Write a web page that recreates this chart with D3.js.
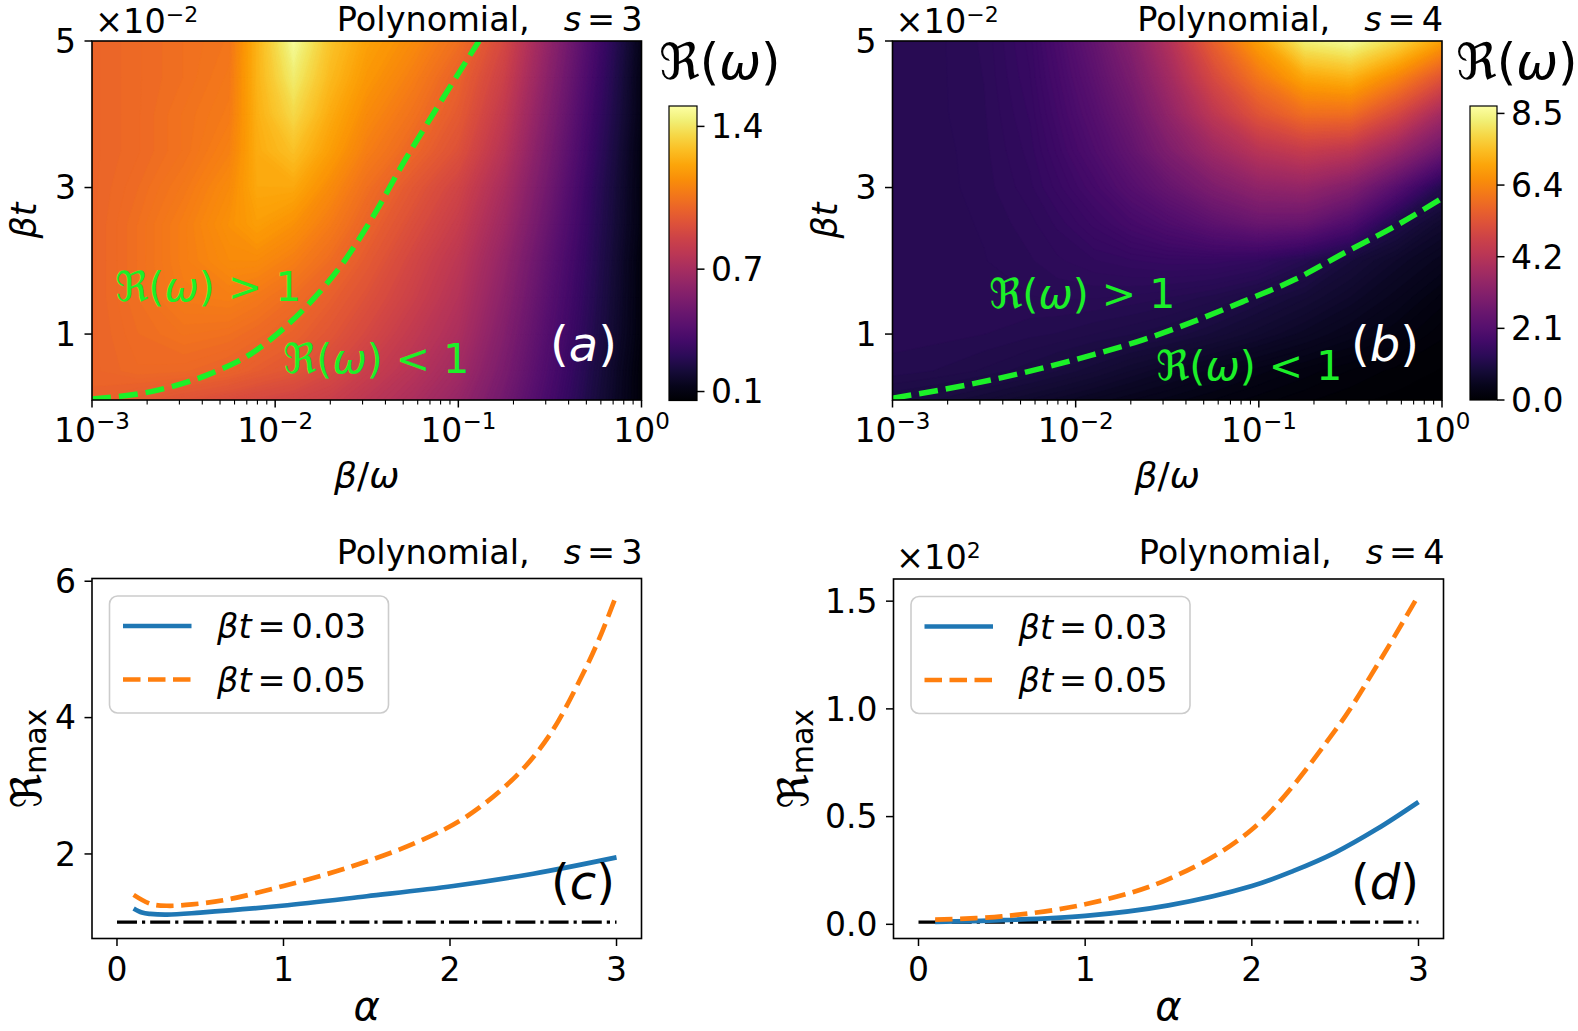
<!DOCTYPE html>
<html><head><meta charset="utf-8">
<script src="https://cdn.jsdelivr.net/npm/d3@7"></script>
<style>
html,body{margin:0;padding:0;background:#fff;}
svg text{font-family:"DejaVu Sans",sans-serif;fill:#000;}
</style></head><body>
<svg id="fig" width="1578" height="1031" xmlns="http://www.w3.org/2000/svg"></svg>
<script>
// ================= DATA =================
// heat-map sample grid: columns = log10(beta/omega), rows = beta*t (x10^-2), top -> bottom
const gridLogRatio = [-3, -2.75, -2.5, -2.25, -2.1, -1.9, -1.7, -1.5, -1.25, -1, -0.75, -0.5, -0.25, 0];
const gridBetaT = [5, 4.5, 4, 3.5, 3, 2.5, 2, 1.5, 1, 0.5, 0.1];

// R(omega), polynomial s = 3
const ratioS3 = [
  [1.00, 1.02, 1.04, 1.06, 1.25, 1.48, 1.30, 1.20, 1.13, 1.04, 0.88, 0.62, 0.36, 0.12],
  [1.00, 1.02, 1.04, 1.07, 1.25, 1.42, 1.27, 1.17, 1.09, 0.99, 0.84, 0.59, 0.34, 0.11],
  [1.00, 1.02, 1.05, 1.08, 1.24, 1.36, 1.23, 1.13, 1.05, 0.96, 0.80, 0.56, 0.32, 0.11],
  [1.00, 1.02, 1.05, 1.10, 1.23, 1.29, 1.19, 1.09, 1.01, 0.92, 0.76, 0.53, 0.30, 0.10],
  [1.00, 1.03, 1.07, 1.13, 1.22, 1.22, 1.13, 1.04, 0.95, 0.86, 0.71, 0.50, 0.28, 0.10],
  [1.00, 1.04, 1.09, 1.15, 1.19, 1.15, 1.08, 1.00, 0.91, 0.82, 0.67, 0.47, 0.27, 0.10],
  [1.00, 1.04, 1.09, 1.13, 1.13, 1.09, 1.03, 0.96, 0.87, 0.78, 0.63, 0.44, 0.26, 0.09],
  [1.00, 1.04, 1.08, 1.09, 1.07, 1.03, 0.98, 0.92, 0.84, 0.75, 0.60, 0.42, 0.25, 0.09],
  [1.00, 1.03, 1.05, 1.04, 1.02, 0.99, 0.94, 0.88, 0.80, 0.72, 0.57, 0.40, 0.24, 0.09],
  [1.00, 1.02, 1.015, 0.995, 0.97, 0.94, 0.89, 0.83, 0.76, 0.68, 0.54, 0.38, 0.22, 0.08],
  [0.99, 0.96, 0.93, 0.90, 0.88, 0.86, 0.83, 0.78, 0.72, 0.64, 0.51, 0.36, 0.21, 0.08]
];
// R(omega), polynomial s = 4
const ratioS4 = [
  [1.22, 1.24, 1.32, 1.55, 1.90, 2.45, 3.15, 4.10, 5.60, 6.90, 8.30, 8.60, 7.90, 6.90],
  [1.22, 1.24, 1.31, 1.52, 1.82, 2.30, 2.90, 3.75, 5.00, 6.10, 7.00, 7.20, 6.40, 5.30],
  [1.22, 1.24, 1.30, 1.48, 1.74, 2.15, 2.65, 3.40, 4.40, 5.30, 5.90, 5.90, 5.00, 3.80],
  [1.22, 1.23, 1.29, 1.44, 1.65, 2.00, 2.42, 3.00, 3.70, 4.30, 4.60, 4.40, 3.60, 2.60],
  [1.21, 1.23, 1.28, 1.40, 1.55, 1.80, 2.15, 2.50, 3.00, 3.40, 3.50, 3.10, 2.20, 1.15],
  [1.22, 1.23, 1.26, 1.34, 1.43, 1.60, 1.80, 2.00, 2.30, 2.55, 2.50, 2.00, 1.05, 0.70],
  [1.22, 1.23, 1.25, 1.30, 1.35, 1.41, 1.46, 1.50, 1.50, 1.42, 1.18, 0.88, 0.65, 0.45],
  [1.22, 1.23, 1.24, 1.25, 1.26, 1.26, 1.24, 1.20, 1.12, 0.98, 0.83, 0.65, 0.45, 0.25],
  [1.22, 1.22, 1.20, 1.16, 1.14, 1.09, 1.04, 0.98, 0.86, 0.72, 0.57, 0.42, 0.27, 0.12],
  [1.18, 1.14, 1.08, 1.00, 0.93, 0.83, 0.71, 0.60, 0.47, 0.35, 0.25, 0.16, 0.09, 0.05],
  [0.98, 0.92, 0.82, 0.70, 0.63, 0.53, 0.44, 0.36, 0.27, 0.19, 0.12, 0.07, 0.04, 0.02]
];
const colorRangeS3 = [0.056, 1.50];
const colorRangeS4 = [0.0, 8.72];
const cbTicksS3 = [0.1, 0.7, 1.4];
const cbLabelsS3 = ["0.1", "0.7", "1.4"];
const cbTicksS4 = [0.0, 2.125, 4.25, 6.375, 8.5];
const cbLabelsS4 = ["0.0", "2.1", "4.2", "6.4", "8.5"];

// R(omega) = 1 boundary (dashed green)
const boundaryS3Ratio = [0.001, 0.0021, 0.00451, 0.00748, 0.0109, 0.016, 0.0234, 0.0342, 0.050, 0.0733, 0.1297];
const boundaryS3BetaT = [0.115, 0.215, 0.467, 0.74, 1.057, 1.467, 1.967, 2.603, 3.332, 4.014, 5.0];
const boundaryS4Ratio = [0.001, 0.00185, 0.00348, 0.00656, 0.01236, 0.0233, 0.0439, 0.0826, 0.156, 0.294, 0.553, 1.0];
const boundaryS4BetaT = [0.125, 0.239, 0.375, 0.535, 0.716, 0.921, 1.17, 1.447, 1.74, 2.11, 2.47, 2.854];

const ratioTicks = [1e-3, 1e-2, 1e-1, 1e0];
const ratioTickExp = ["\u22123", "\u22122", "\u22121", "0"];
const betaTTicks = [1, 3, 5];
const betaTLabels = ["1", "3", "5"];

// R_max vs alpha
const alphaC03 = [0.1, 0.15, 0.2, 0.3, 0.5, 0.99, 1.5, 2.02, 2.5, 3.0];
const rmaxC03  = [1.20, 1.14, 1.12, 1.11, 1.14, 1.24, 1.38, 1.53, 1.71, 1.95];
const alphaC05 = [0.1, 0.2, 0.3, 0.45, 0.66, 1.0, 1.4, 1.8, 2.1, 2.4, 2.6, 2.8, 2.9, 3.0];
const rmaxC05  = [1.40, 1.27, 1.24, 1.26, 1.33, 1.53, 1.81, 2.17, 2.55, 3.15, 3.75, 4.65, 5.18, 5.80];
const alphaD03 = [0.1, 0.5, 1.0, 1.5, 2.0, 2.25, 2.5, 2.75, 3.0];
const rmaxD03  = [1.1, 1.9, 3.9, 8.8, 17.8, 24.8, 33.3, 44.2, 56.8];
const alphaD05 = [0.1, 0.5, 1.0, 1.5, 2.0, 2.5, 2.75, 3.0];
const rmaxD05  = [2.2, 3.7, 9.3, 21.0, 44.0, 90.0, 120.0, 152.7];
const alphaRef = [0, 3];
const rmaxRef  = [1, 1];
const alphaTicks = [0, 1, 2, 3];
const rmaxTicksC = [2, 4, 6];
const rmaxLabelsC = ["2", "4", "6"];
const rmaxTicksD = [0, 50, 100, 150];
const rmaxLabelsD = ["0.0", "0.5", "1.0", "1.5"];
const legendLabels = ["0.03", "0.05"];

// ================= DRAWING =================
const svg = d3.select('#fig');
const GREEN = "#1cf028", BLUE = "#1f77b4", ORANGE = "#ff7f0e";
const TICK_FS = 33, TITLE_FS = 33.5;
const defs = svg.append('defs');

function title(x, y, sVal) {
  const t = svg.append('text').attr('x', x).attr('y', y).attr('text-anchor', 'end').style('font-size', TITLE_FS + 'px');
  t.append('tspan').text('Polynomial,');
  t.append('tspan').attr('dx', 34).style('font-style', 'italic').text('s');
  t.append('tspan').attr('dx', 6).text('=');
  t.append('tspan').attr('dx', 6).text(sVal);
}
function sciLabel(x, y, exp) {
  const t = svg.append('text').attr('x', x).attr('y', y).style('font-size', TITLE_FS + 'px');
  t.append('tspan').text('\u00d710');
  t.append('tspan').attr('dy', -11).style('font-size', '22px').text(exp);
}
function frame(L, R, T, B) {
  svg.append('rect').attr('x', L).attr('y', T).attr('width', R - L).attr('height', B - T)
    .attr('fill', 'none').attr('stroke', '#000').attr('stroke-width', 1.6);
}
function reLabel(x, y, fs, anchor, color, rest) {
  const t = svg.append('text').attr('x', x).attr('y', y).attr('text-anchor', anchor || 'start')
    .style('font-size', fs + 'px').style('fill', color || '#000');
  t.append('tspan').text('\u211c(');
  t.append('tspan').style('font-style', 'italic').text('\u03c9');
  t.append('tspan').text(')' + (rest || ''));
  return t;
}
function panelTag(x, y, letter, color) {
  const t = svg.append('text').attr('x', x).attr('y', y).style('font-size', '48px').style('fill', color);
  t.append('tspan').text('(');
  t.append('tspan').style('font-style', 'italic').text(letter);
  t.append('tspan').text(')');
}

function heatPanel(o) {
  const xs = d3.scaleLog().domain([1e-3, 1]).range([o.L, o.R]);
  const ys = d3.scaleLinear().domain([0.1, 5]).range([o.B, o.T]);
  const norm = d3.scaleLinear().domain(o.crange).range([0, 1]).clamp(true);
  const color = v => d3.interpolateInferno(norm(v));
  const clipId = 'clip' + o.id;
  defs.append('clipPath').attr('id', clipId).append('rect')
    .attr('x', o.L).attr('y', o.T).attr('width', o.R - o.L).attr('height', o.B - o.T);
  const gc = svg.append('g').attr('clip-path', `url(#${clipId})`);
  gc.append('rect').attr('x', o.L).attr('y', o.T).attr('width', o.R - o.L).attr('height', o.B - o.T)
    .attr('fill', color(o.crange[0]));
  const n = gridLogRatio.length, m = gridBetaT.length;
  const NL = 160;
  const step = (o.crange[1] - o.crange[0]) / NL;
  const levels = d3.range(NL).map(i => o.crange[0] + step * i);
  const contours = d3.contours().size([n, m]).thresholds(levels)(o.values.flat());
  const gxS = d3.scaleLinear().domain(d3.range(n).map(i => i + 0.5)).range(gridLogRatio);
  const gyS = d3.scaleLinear().domain(d3.range(m).map(i => i + 0.5)).range(gridBetaT);
  const proj = d3.geoTransform({
    point(x, y) { this.stream.point(xs(Math.pow(10, gxS(x))), ys(gyS(y))); }
  });
  const path = d3.geoPath(proj);
  gc.selectAll('path.band').data(contours).join('path').attr('class', 'band')
    .attr('d', path).attr('fill', d => color(d.value + step / 2))
    .attr('stroke', d => color(d.value + step / 2)).attr('stroke-width', 0.6);
  // boundary R=1
  const pts = o.bx.map((v, i) => [v, o.by[i]]);
  gc.append('path').attr('d', d3.line().x(d => xs(d[0])).y(d => ys(d[1])).curve(d3.curveMonotoneX)(pts))
    .attr('fill', 'none').attr('stroke', GREEN).attr('stroke-width', 5.5).attr('stroke-dasharray', '19,8');
  frame(o.L, o.R, o.T, o.B);
  // x ticks (log)
  const gAx = svg.append('g');
  ratioTicks.forEach((v, i) => {
    const x = xs(v);
    gAx.append('line').attr('x1', x).attr('x2', x).attr('y1', o.B).attr('y2', o.B + 7.5).attr('stroke', '#000').attr('stroke-width', 1.5);
    const t = gAx.append('text').attr('x', x).attr('y', o.B + 42).attr('text-anchor', 'middle').style('font-size', TICK_FS + 'px');
    t.append('tspan').text('10');
    t.append('tspan').attr('dy', -13).style('font-size', '23px').text(ratioTickExp[i]);
  });
  [1e-3, 1e-2, 1e-1].forEach(dec => {
    d3.range(2, 10).forEach(k => {
      const x = xs(dec * k);
      gAx.append('line').attr('x1', x).attr('x2', x).attr('y1', o.B).attr('y2', o.B + 4.5).attr('stroke', '#000').attr('stroke-width', 1.1);
    });
  });
  betaTTicks.forEach((v, i) => {
    const y = ys(v);
    gAx.append('line').attr('x1', o.L - 7.5).attr('x2', o.L).attr('y1', y).attr('y2', y).attr('stroke', '#000').attr('stroke-width', 1.5);
    gAx.append('text').attr('x', o.L - 16).attr('y', y).attr('dy', '0.36em').attr('text-anchor', 'end')
      .style('font-size', TICK_FS + 'px').text(betaTLabels[i]);
  });
  // axis labels
  const xl = svg.append('text').attr('x', (o.L + o.R) / 2).attr('y', o.B + 88).attr('text-anchor', 'middle').style('font-size', '36px').style('font-style', 'italic');
  xl.append('tspan').text('\u03b2');
  xl.append('tspan').style('font-style', 'normal').text('/');
  xl.append('tspan').text('\u03c9');
  svg.append('text').attr('transform', `translate(${o.L - 56},${(o.T + o.B) / 2}) rotate(-90)`)
    .attr('text-anchor', 'middle').style('font-size', '35px').style('font-style', 'italic').text('\u03b2t');
  // colorbar
  const gid = 'grad' + o.id;
  const grad = defs.append('linearGradient').attr('id', gid).attr('x1', 0).attr('x2', 0).attr('y1', 1).attr('y2', 0);
  d3.range(0, 1.0001, 0.05).forEach(t => grad.append('stop').attr('offset', t).attr('stop-color', d3.interpolateInferno(t)));
  svg.append('rect').attr('x', o.cbL).attr('y', o.cbT).attr('width', o.cbR - o.cbL).attr('height', o.cbB - o.cbT)
    .attr('fill', `url(#${gid})`).attr('stroke', '#000').attr('stroke-width', 1.2);
  const cs = d3.scaleLinear().domain(o.crange).range([o.cbB, o.cbT]);
  o.cbTicks.forEach((v, i) => {
    const y = cs(v);
    svg.append('line').attr('x1', o.cbR).attr('x2', o.cbR + 7.5).attr('y1', y).attr('y2', y).attr('stroke', '#000').attr('stroke-width', 1.5);
    svg.append('text').attr('x', o.cbR + 14).attr('y', y).attr('dy', '0.36em').style('font-size', TICK_FS + 'px').text(o.cbLabels[i]);
  });
  reLabel(o.cbTitleX, 79, 50);
  title(o.R + 1, 31, o.s);
  sciLabel(o.L + 3, 33, '\u22122');
  reLabel(o.gt1[0], o.gt1[1], 41, 'start', GREEN, ' > 1');
  reLabel(o.gt2[0], o.gt2[1], 41, 'start', GREEN, ' < 1');
  panelTag(o.tag[0], o.tag[1], o.letter, '#fff');
}

function linePanel(o) {
  const xs = d3.scaleLinear().domain([-0.15, 3.15]).range([o.L, o.R]);
  const all = o.series.flatMap(s => s.y).concat(rmaxRef);
  const [mn, mx] = d3.extent(all);
  const pad = (mx - mn) * 0.05;
  const ys = d3.scaleLinear().domain([mn - pad, mx + pad]).range([o.B, o.T]);
  const clipId = 'clip' + o.id;
  defs.append('clipPath').attr('id', clipId).append('rect')
    .attr('x', o.L).attr('y', o.T).attr('width', o.R - o.L).attr('height', o.B - o.T);
  const g = svg.append('g').attr('clip-path', `url(#${clipId})`);
  const line = d3.line().x(d => xs(d[0])).y(d => ys(d[1])).curve(d3.curveCatmullRom.alpha(0.5));
  g.append('path').attr('d', d3.line().x(d => xs(d[0])).y(d => ys(d[1]))(alphaRef.map((a, i) => [a, rmaxRef[i]])))
    .attr('fill', 'none').attr('stroke', '#000').attr('stroke-width', 3.2).attr('stroke-dasharray', '20,5,3.2,5');
  o.series.forEach(s => {
    g.append('path').attr('d', line(s.x.map((a, i) => [a, s.y[i]])))
      .attr('fill', 'none').attr('stroke', s.color).attr('stroke-width', 4.7)
      .attr('stroke-dasharray', s.dash || null);
  });
  frame(o.L, o.R, o.T, o.B);
  alphaTicks.forEach(v => {
    const x = xs(v);
    svg.append('line').attr('x1', x).attr('x2', x).attr('y1', o.B).attr('y2', o.B + 7.5).attr('stroke', '#000').attr('stroke-width', 1.5);
    svg.append('text').attr('x', x).attr('y', o.B + 42).attr('text-anchor', 'middle').style('font-size', TICK_FS + 'px').text(v);
  });
  o.yTicks.forEach((v, i) => {
    const y = ys(v);
    svg.append('line').attr('x1', o.L - 7.5).attr('x2', o.L).attr('y1', y).attr('y2', y).attr('stroke', '#000').attr('stroke-width', 1.5);
    svg.append('text').attr('x', o.L - 16).attr('y', y).attr('dy', '0.36em').attr('text-anchor', 'end')
      .style('font-size', TICK_FS + 'px').text(o.yLabels[i]);
  });
  // legend
  const lg = svg.append('g');
  lg.append('rect').attr('x', o.L + 17.5).attr('y', o.T + 17.5).attr('width', 279).attr('height', 117).attr('rx', 8)
    .attr('fill', '#fff').attr('fill-opacity', 0.8).attr('stroke', '#cccccc').attr('stroke-width', 1.6);
  o.series.forEach((s, i) => {
    const y = o.T + 47.5 + i * 53.5;
    lg.append('line').attr('x1', o.L + 31).attr('x2', o.L + 99.5).attr('y1', y).attr('y2', y)
      .attr('stroke', s.color).attr('stroke-width', 4.7).attr('stroke-dasharray', s.dash || null);
    const t = lg.append('text').attr('x', o.L + 125).attr('y', y + 12).style('font-size', TITLE_FS + 'px');
    t.append('tspan').style('font-style', 'italic').text('\u03b2t');
    t.append('tspan').attr('dx', 6).text('=');
    t.append('tspan').attr('dx', 6).text(legendLabels[i]);
  });
  // axis labels
  svg.append('text').attr('x', (o.L + o.R) / 2).attr('y', 1020).attr('text-anchor', 'middle')
    .style('font-size', '40px').style('font-style', 'italic').text('\u03b1');
  const yl = svg.append('text').attr('transform', `translate(${o.yLabX},${(o.T + o.B) / 2}) rotate(-90)`)
    .attr('text-anchor', 'middle').style('font-size', '42px');
  yl.append('tspan').text('\u211c');
  yl.append('tspan').attr('dy', 5).style('font-size', '30px').text('max');
  title(o.R + 1, o.T - 15, o.s);
  panelTag(o.tag[0], o.tag[1], o.letter, '#000');
}

heatPanel({
  id: 'a', L: 92, R: 641.5, T: 41, B: 400, values: ratioS3, crange: colorRangeS3,
  bx: boundaryS3Ratio, by: boundaryS3BetaT,
  cbL: 669, cbR: 697, cbT: 106, cbB: 400.5, cbTicks: cbTicksS3, cbLabels: cbLabelsS3, cbTitleX: 659,
  s: '3', gt1: [115, 301], gt2: [283, 373], tag: [550, 361], letter: 'a'
});
heatPanel({
  id: 'b', L: 892.5, R: 1442, T: 41, B: 400, values: ratioS4, crange: colorRangeS4,
  bx: boundaryS4Ratio, by: boundaryS4BetaT,
  cbL: 1470, cbR: 1497, cbT: 106, cbB: 400, cbTicks: cbTicksS4, cbLabels: cbLabelsS4, cbTitleX: 1456,
  s: '4', gt1: [989, 308], gt2: [1156, 380], tag: [1351, 361], letter: 'b'
});
linePanel({
  id: 'c', L: 92, R: 641.5, T: 578.5, B: 938.5,
  series: [{x: alphaC03, y: rmaxC03, color: BLUE}, {x: alphaC05, y: rmaxC05, color: ORANGE, dash: '17.5,7.5'}],
  yTicks: rmaxTicksC, yLabels: rmaxLabelsC, yLabX: 41, s: '3', tag: [551, 899], letter: 'c'
});
linePanel({
  id: 'd', L: 893.5, R: 1443.5, T: 579, B: 938.5,
  series: [{x: alphaD03, y: rmaxD03, color: BLUE}, {x: alphaD05, y: rmaxD05, color: ORANGE, dash: '17.5,7.5'}],
  yTicks: rmaxTicksD, yLabels: rmaxLabelsD, yLabX: 808, s: '4', tag: [1351, 899], letter: 'd'
});
sciLabel(896, 569, '2');
</script>
</body></html>
